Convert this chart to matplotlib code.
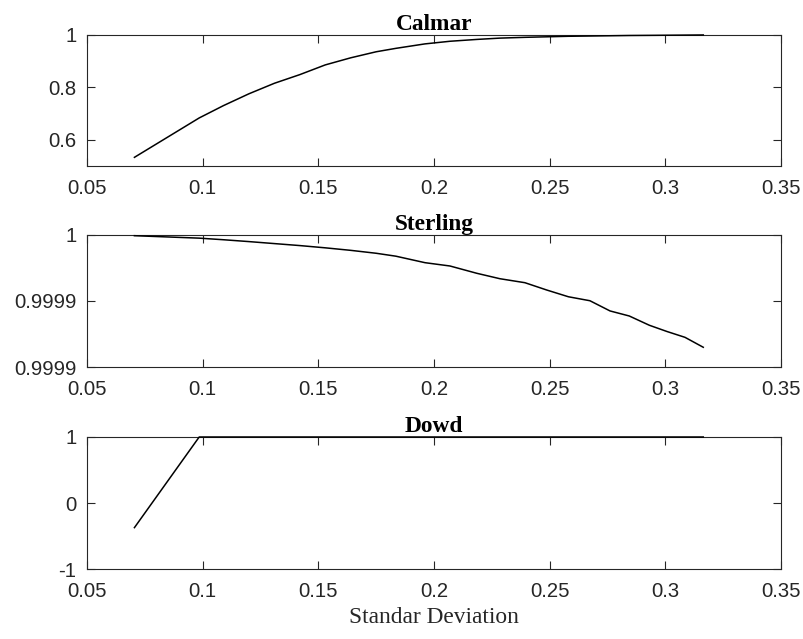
import matplotlib
matplotlib.use("Agg")
import matplotlib.pyplot as plt
from matplotlib.ticker import FixedLocator, FixedFormatter

# ---- data ----
std_dev = [0.0705, 0.0985, 0.109, 0.120, 0.131, 0.142, 0.153, 0.164, 0.175, 0.1835,
           0.1961, 0.2069, 0.2185, 0.2285, 0.2393, 0.2487, 0.2581, 0.2674, 0.2761,
           0.2844, 0.2931, 0.3007, 0.3085, 0.3164]
calmar = [0.533, 0.683, 0.73, 0.775, 0.815, 0.848, 0.885, 0.912, 0.935, 0.948,
          0.965, 0.975, 0.982, 0.987, 0.990, 0.992, 0.994, 0.995, 0.996,
          0.997, 0.9975, 0.998, 0.9985, 0.999]
sterling = [0.99999925, 0.9999974, 0.9999962, 0.9999948, 0.9999933, 0.9999918,
            0.9999901, 0.9999882, 0.9999860, 0.9999838, 0.9999789, 0.9999764,
            0.9999709, 0.9999668, 0.9999638, 0.9999583, 0.9999532, 0.9999502,
            0.9999425, 0.9999387, 0.9999317, 0.9999270, 0.9999226, 0.9999151]
dowd = [-0.37, 1, 1, 1, 1, 1, 1, 1, 1, 1, 1, 1, 1, 1, 1, 1, 1, 1, 1, 1, 1, 1, 1, 1]

titles = ["Calmar", "Sterling", "Dowd"]
xlabel = "Standar Deviation"
x_ticks = [0.05, 0.1, 0.15, 0.2, 0.25, 0.3, 0.35]
x_ticklabels = ["0.05", "0.1", "0.15", "0.2", "0.25", "0.3", "0.35"]
y_ticks = [[0.6, 0.8, 1.0], [0.9999, 0.99995, 1.0], [-1, 0, 1]]
y_ticklabels = [["0.6", "0.8", "1"], ["0.9999", "0.9999", "1"], ["-1", "0", "1"]]
y_lims = [(0.5, 1.0), (0.9999, 1.0), (-1, 1)]
series = [calmar, sterling, dowd]

axc = "#262626"
tick_font = "Liberation Sans"
serif_font = "Liberation Serif"

fig = plt.figure(figsize=(8.04, 6.39), dpi=100)
W, H = 804, 639
boxes = [(34.7, 166.0), (234.7, 367.3), (437.0, 569.3)]
left, right = 87, 781

for i, (top, bot) in enumerate(boxes):
    ax = fig.add_axes([left / W, 1 - bot / H, (right - left) / W, (bot - top) / H])
    ax.plot(std_dev, series[i], color="black", lw=1.1, zorder=3, clip_on=False)
    ax.set_xlim(0.05, 0.35)
    ax.set_ylim(*y_lims[i])
    ax.xaxis.set_major_locator(FixedLocator(x_ticks))
    ax.xaxis.set_major_formatter(FixedFormatter(x_ticklabels))
    ax.yaxis.set_major_locator(FixedLocator(y_ticks[i]))
    ax.yaxis.set_major_formatter(FixedFormatter(y_ticklabels[i]))
    ax.tick_params(axis="both", which="both", direction="in", length=5.5, width=0.8,
                   colors=axc, labelsize=14.6, top=True, right=True)
    ax.tick_params(axis="x", pad=9)
    ax.tick_params(axis="y", pad=7.5)
    for lab in ax.get_xticklabels() + ax.get_yticklabels():
        lab.set_fontfamily(tick_font)
    for s in ax.spines.values():
        s.set_color(axc)
        s.set_linewidth(0.8)
    ax.set_title(titles[i], fontfamily=serif_font, fontweight="bold", fontsize=16.8,
                 pad=3, color="black")
    if i == 2:
        ax.set_xlabel(xlabel, fontfamily=serif_font, fontsize=16.8, color=axc, labelpad=4.6)

fig.savefig("out.png", dpi=100)
